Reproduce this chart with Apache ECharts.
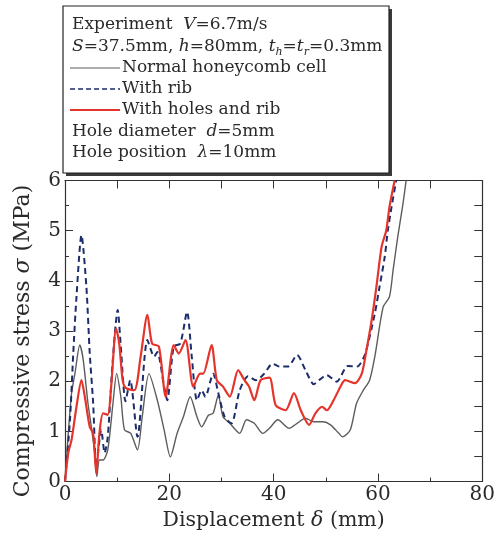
<!DOCTYPE html>
<html>
<head>
<meta charset="utf-8">
<script src="https://cdn.jsdelivr.net/npm/echarts@6/dist/echarts.min.js"></script>
<style>html,body{margin:0;padding:0;background:#fff;}#c{width:498px;height:542px;}</style>
</head>
<body>
<div id="c"></div>
<script>
// Normal honeycomb cell (gray solid)
const normalX = [0, 0.63, 1.26, 1.9, 2.84, 3.5, 4.4, 5.05, 5.7, 6.1, 6.6, 7.3, 8.2, 9.2, 9.9, 10.7, 11.4, 12.6, 13.9, 14.8, 16.1, 17.7, 19, 20.2, 21.5, 22.7, 24, 25.3, 26.2, 27.5, 28.4, 29.4, 30.3, 31.6, 33.5, 34.8, 36.3, 37.9, 39.2, 40.8, 43, 44.5, 46.1, 47.7, 49.5, 50.9, 52.5, 53.2, 54.7, 55.9, 57.2, 58.4, 59.4, 61, 62.2, 62.9, 63.8, 64.8, 65.4];
const normalY = [0, 0.96, 1.76, 2.15, 2.72, 2.42, 1.56, 1.09, 0.57, 0.1, 0.43, 0.43, 0.63, 1.56, 2.15, 1.69, 1.03, 0.96, 0.63, 1.29, 2.15, 1.62, 1.03, 0.49, 0.96, 1.29, 1.69, 1.29, 1.09, 1.32, 1.36, 1.72, 1.29, 1.16, 0.96, 1.23, 1.16, 0.96, 1.06, 1.23, 1.06, 1.16, 1.26, 1.19, 1.19, 1.13, 0.96, 0.89, 1.03, 1.56, 1.82, 2.02, 2.49, 3.48, 3.68, 4.21, 4.88, 5.54, 6];
// With rib (blue dashed)
const ribX = [0, 0.95, 1.58, 2.2, 3.16, 4.1, 4.74, 5.4, 6.0, 6.95, 7.6, 8.2, 9.16, 10.1, 10.7, 11.6, 12.5, 13.9, 15.8, 17.1, 17.7, 19.0, 19.6, 20.85, 22.1, 23.4, 24.3, 25.3, 26.2, 26.9, 28.4, 29.4, 30.6, 31.9, 33.5, 35.1, 36.6, 38.2, 39.8, 41.1, 42.7, 44.5, 46.1, 47.7, 48.7, 50.2, 52.1, 54.2, 56.0, 57.5, 59.4, 60.3, 61.3, 61.9, 62.6, 63.5];
const ribY = [0, 1.22, 2.55, 3.68, 4.91, 3.88, 2.56, 1.56, 0.3, 1.03, 0.57, 0.89, 2.42, 3.42, 2.69, 1.6, 2.02, 0.89, 2.82, 2.49, 2.58, 1.89, 1.62, 2.69, 2.75, 3.38, 2.49, 1.62, 1.82, 1.69, 2.15, 1.76, 1.29, 1.16, 1.82, 2.1, 2.02, 2.15, 2.35, 2.29, 2.29, 2.52, 2.22, 1.94, 2.02, 2.12, 1.99, 2.3, 2.29, 2.53, 3.35, 3.88, 4.48, 5.01, 5.47, 6];
// With holes and rib (red solid)
const holeX = [0, 0.63, 1.26, 2.2, 3.16, 3.8, 4.74, 5.4, 6.0, 6.6, 7.3, 8.2, 8.85, 9.8, 10.4, 11.05, 11.7, 13.3, 14.5, 15.8, 16.7, 18.0, 19.3, 20.85, 21.8, 23.1, 24.6, 25.9, 26.5, 28.1, 29.1, 30.3, 31.6, 33.2, 34.4, 35.3, 36.3, 37.5, 39.2, 40.4, 42.3, 43.9, 45.2, 46.8, 48, 49.3, 50.2, 51.5, 52.8, 53.7, 55.6, 56.9, 57.8, 58.8, 59.7, 60.7, 61.6, 62.2, 63.2];
const holeY = [0, 0.57, 0.83, 1.49, 2.02, 1.69, 1.09, 0.96, 0.16, 0.96, 1.36, 1.33, 1.89, 3.05, 2.75, 2.02, 1.86, 1.82, 2.49, 3.32, 2.75, 2.69, 1.69, 2.72, 2.55, 2.82, 1.89, 2.15, 2.15, 2.72, 2.02, 1.89, 1.69, 2.22, 2.02, 1.89, 1.62, 2.02, 2.07, 1.52, 1.42, 1.76, 1.42, 1.13, 1.36, 1.49, 1.42, 1.62, 1.89, 2.02, 1.96, 2.15, 2.62, 3.22, 3.88, 4.68, 5.01, 5.47, 6];

const xTicks = [0, 20, 40, 60, 80];
const yTicks = [0, 1, 2, 3, 4, 5, 6];

const FONT = 'DejaVu Serif';
const TXT = '#2a2a2a';
const AX = '#333';

function pairs(xs, ys) { return xs.map((x, i) => [x, ys[i]]); }

const chart = echarts.init(document.getElementById('c'), null, {renderer: 'canvas'});

const axisCommon = {
  axisLine: {show: true, onZero: false, lineStyle: {color: AX, width: 1.2}},
  axisTick: {show: true, inside: true, length: 8, lineStyle: {color: AX, width: 1}},
  minorTick: {show: true, splitNumber: 2, length: 4, lineStyle: {color: AX, width: 1}},
  splitLine: {show: false}
};

const boxL = 63, boxT = 6, boxR = 389, boxB = 173;
const lineX0 = 70, lineX1 = 120, textX = 72, textX2 = 122;

const richBase = {
  i: {fontFamily: FONT, fontStyle: 'italic', fontSize: 17, fill: TXT},
  s: {fontFamily: FONT, fontStyle: 'italic', fontSize: 11, fill: TXT, verticalAlign: 'bottom', lineHeight: 12}
};

function legendText(x, y, text) {
  return {
    type: 'text', left: x, top: y - 11,
    style: {text: text, fontFamily: FONT, fontSize: 17, fill: TXT, lineHeight: 22, rich: richBase}
  };
}

chart.setOption({
  animation: false,
  backgroundColor: '#fff',
  grid: {left: 65, right: 11, top: 180.5, bottom: 60.5, containLabel: false},
  xAxis: [
    Object.assign({}, axisCommon, {
      type: 'value', min: xTicks[0], max: xTicks[xTicks.length - 1], interval: 20, position: 'bottom',
      axisLabel: {fontFamily: FONT, fontSize: 20, color: TXT, margin: 3},
      name: 'Displacement {i|δ} (mm)', nameLocation: 'middle', nameGap: 29,
      nameTextStyle: {fontFamily: FONT, fontSize: 20.5, color: TXT,
        rich: {i: {fontFamily: FONT, fontStyle: 'italic', fontSize: 20.5, color: TXT}}}
    }),
    Object.assign({}, axisCommon, {
      type: 'value', min: 0, max: 80, interval: 10, position: 'top',
      axisLabel: {show: false},
      minorTick: {show: false}
    })
  ],
  yAxis: [
    Object.assign({}, axisCommon, {
      type: 'value', min: yTicks[0], max: yTicks[yTicks.length - 1], interval: 1, position: 'left',
      axisLabel: {fontFamily: FONT, fontSize: 20, color: TXT, margin: 4},
      name: 'Compressive stress {i|σ} (MPa)', nameLocation: 'middle', nameGap: 31,
      nameTextStyle: {fontFamily: FONT, fontSize: 22, color: TXT, padding: [0, 20, 0, 0],
        rich: {i: {fontFamily: FONT, fontStyle: 'italic', fontSize: 22, color: TXT}}}
    }),
    Object.assign({}, axisCommon, {
      type: 'value', min: 0, max: 6, interval: 0.5, position: 'right',
      axisLabel: {show: false},
      minorTick: {show: false}
    })
  ],
  series: [
    {type: 'line', name: 'Normal honeycomb cell', data: pairs(normalX, normalY), showSymbol: false, smooth: 0.25,
     lineStyle: {color: '#5c5c5c', width: 1.4}, z: 2},
    {type: 'line', name: 'With rib', data: pairs(ribX, ribY), showSymbol: false, smooth: 0.25,
     lineStyle: {color: '#1d2d6b', width: 2, type: [6, 4]}, z: 3},
    {type: 'line', name: 'With holes and rib', data: pairs(holeX, holeY), showSymbol: false, smooth: 0.25,
     lineStyle: {color: '#e4342b', width: 2.2}, z: 4}
  ],
  graphic: [
    {type: 'rect', shape: {x: boxL + 3, y: boxT + 3, width: boxR - boxL, height: boxB - boxT},
     style: {fill: '#3a3a3a'}, z: 10},
    {type: 'rect', shape: {x: boxL, y: boxT, width: boxR - boxL, height: boxB - boxT},
     style: {fill: '#fff', stroke: '#222', lineWidth: 1.2}, z: 11},
    Object.assign(legendText(textX, 25, 'Experiment  {i|V}=6.7m/s'), {z: 12}),
    Object.assign(legendText(textX, 47, '{i|S}=37.5mm, {i|h}=80mm, {i|t}{s|h}={i|t}{s|r}=0.3mm'), {z: 12}),
    {type: 'line', shape: {x1: lineX0, y1: 68, x2: lineX1, y2: 68}, style: {stroke: '#5c5c5c', lineWidth: 1.2}, z: 12},
    Object.assign(legendText(textX2, 68, 'Normal honeycomb cell'), {z: 12}),
    {type: 'line', shape: {x1: lineX0, y1: 89, x2: lineX1, y2: 89}, style: {stroke: '#1d2d6b', lineWidth: 1.6, lineDash: [5, 3]}, z: 12},
    Object.assign(legendText(textX2, 89, 'With rib'), {z: 12}),
    {type: 'line', shape: {x1: lineX0, y1: 110, x2: lineX1, y2: 110}, style: {stroke: '#e4342b', lineWidth: 1.8}, z: 12},
    Object.assign(legendText(textX2, 110, 'With holes and rib'), {z: 12}),
    Object.assign(legendText(textX, 132, 'Hole diameter  {i|d}=5mm'), {z: 12}),
    Object.assign(legendText(textX, 153, 'Hole position  {i|λ}=10mm'), {z: 12})
  ]
});
</script>
</body>
</html>
